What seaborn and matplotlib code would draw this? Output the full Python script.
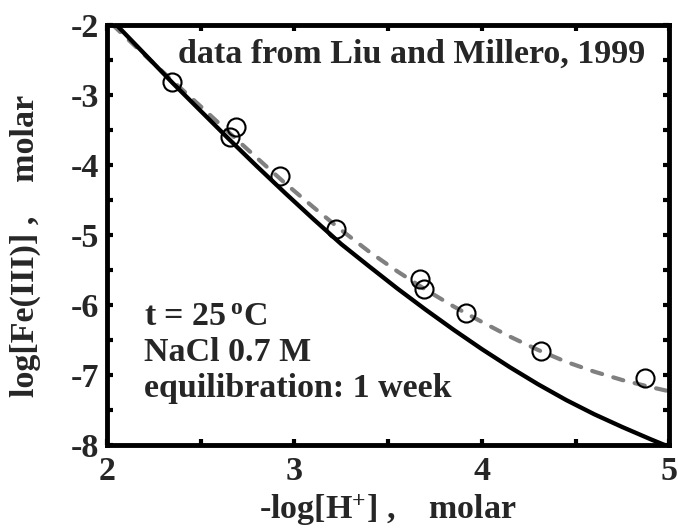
import matplotlib
matplotlib.use("Agg")
import matplotlib.pyplot as plt
import seaborn as sns
import pandas as pd
from matplotlib.ticker import MultipleLocator, FuncFormatter

# measured data (Liu and Millero, 1999)
data_x = [2.347, 2.657, 2.689, 2.924, 3.223, 3.671, 3.692, 3.917, 4.317, 4.872]
data_y = [-2.81, -3.60, -3.46, -4.16, -4.91, -5.63, -5.77, -6.11, -6.66, -7.04]

# solid model curve (black)
solid_x = [2.05, 2.20, 2.35, 2.50, 2.65, 2.80, 2.95, 3.10, 3.25, 3.40, 3.55, 3.70,
           3.85, 4.00, 4.15, 4.30, 4.45, 4.60, 4.75, 4.90, 5.00]
solid_y = [-2.00, -2.415, -2.83, -3.23, -3.63, -4.02, -4.40, -4.77, -5.13, -5.45, -5.765, -6.065,
           -6.353, -6.628, -6.887, -7.13, -7.355, -7.558, -7.741, -7.914, -8.024]

# dashed model curve (gray)
dash_x = [2.03, 2.20, 2.35, 2.50, 2.65, 2.80, 2.95, 3.10, 3.25, 3.40, 3.55, 3.70,
          3.85, 4.00, 4.15, 4.30, 4.45, 4.60, 4.75, 4.90, 5.00]
dash_y = [-2.00, -2.43, -2.80, -3.165, -3.535, -3.90, -4.26, -4.60, -4.93, -5.24, -5.52, -5.78,
          -6.02, -6.24, -6.45, -6.64, -6.81, -6.95, -7.07, -7.17, -7.23]

x_ticklabels = {2: "2", 3: "3", 4: "4", 5: "5"}
y_ticklabels = {-2: "-2", -3: "-3", -4: "-4", -5: "-5", -6: "-6", -7: "-7", -8: "-8"}

FS = 24.5

sns.set_theme(style="ticks")
plt.rcParams["font.family"] = ["Liberation Serif", "DejaVu Serif"]
plt.rcParams["font.weight"] = "bold"
plt.rcParams["axes.unicode_minus"] = False
plt.rcParams["mathtext.fontset"] = "custom"
plt.rcParams["mathtext.rm"] = "Liberation Serif:bold"
plt.rcParams["mathtext.bf"] = "Liberation Serif:bold"
plt.rcParams["mathtext.it"] = "Liberation Serif:bold:italic"

fig = plt.figure(figsize=(6.78, 5.30), dpi=100)
ax = fig.add_axes([0.158, 0.160, 0.829, 0.793])

df_s = pd.DataFrame({"x": solid_x, "y": solid_y})
df_d = pd.DataFrame({"x": dash_x, "y": dash_y})
df_p = pd.DataFrame({"x": data_x, "y": data_y})

sns.lineplot(data=df_s, x="x", y="y", ax=ax, color="black", linewidth=3.1, sort=False, zorder=3)
sns.lineplot(data=df_d, x="x", y="y", ax=ax, color="#808080", linewidth=3.0, sort=False, zorder=2)
dl = ax.lines[-1]
dl.set_dashes([2.5, 2.8])
dl.set_dash_capstyle("round")
ax.plot(df_p["x"], df_p["y"], linestyle="none", marker="o", markersize=13,
        markerfacecolor="none", markeredgecolor="black", markeredgewidth=1.5, zorder=4)

ax.set_xlim(2, 5)
ax.set_ylim(-8, -2)
ax.xaxis.set_major_locator(MultipleLocator(0.5))
ax.yaxis.set_major_locator(MultipleLocator(0.5))
ax.xaxis.set_major_formatter(FuncFormatter(lambda v, p: x_ticklabels.get(int(round(v)), "") if abs(v - round(v)) < 1e-6 else ""))
ax.yaxis.set_major_formatter(FuncFormatter(lambda v, p: y_ticklabels.get(int(round(v)), "") if abs(v - round(v)) < 1e-6 else ""))
ax.tick_params(direction="in", length=4, width=3, top=True, right=True, labelsize=FS, color="black")
ax.tick_params(axis="y", pad=6)
ax.tick_params(axis="x", pad=8)
for sp in ax.spines.values():
    sp.set_linewidth(3.5)
    sp.set_color("black")
    sp.set_visible(True)

ax.set_xlabel("-log[H$^{+}$] ,    molar", fontsize=FS, fontweight="bold")
ax.set_ylabel("log[Fe(III)] ,    molar", fontsize=FS, fontweight="bold")
ax.xaxis.set_label_coords(0.5, -0.112)
ax.yaxis.set_label_coords(-0.118, 0.475)

ax.text(0.957, 0.93, "data from Liu and Millero, 1999", transform=ax.transAxes, ha="right", va="center",
        fontsize=FS, fontweight="bold")
ax.text(0.065, 0.305, "t = 25$\\,^{\\rm o}$C", transform=ax.transAxes, ha="left", va="center",
        fontsize=FS, fontweight="bold")
ax.text(0.065, 0.22, "NaCl 0.7 M", transform=ax.transAxes, ha="left", va="center",
        fontsize=FS, fontweight="bold")
ax.text(0.065, 0.135, "equilibration: 1 week", transform=ax.transAxes, ha="left", va="center",
        fontsize=FS, fontweight="bold")

fig.savefig("out.png", dpi=100)
